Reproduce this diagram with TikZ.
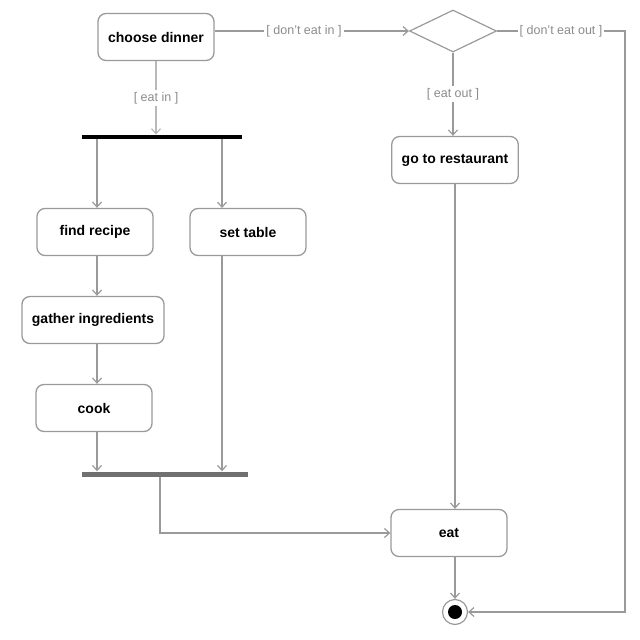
\documentclass[tikz,border=0pt]{standalone}
\usepackage{fontspec}
\setmainfont{Liberation Sans}
\usetikzlibrary{arrows.meta}
\usetikzlibrary{shapes.geometric}
\usetikzlibrary{positioning}
\definecolor{linegray}{HTML}{9A9A9A}
\definecolor{guardgray}{HTML}{8C8C8C}
\definecolor{joingray}{HTML}{707070}

\begin{document}
\begin{tikzpicture}[x=1pt,y=-1pt,->,>={Straight Barb[length=5pt,width=9pt]},
		activity/.style={draw=linegray,line width=1.3pt,rounded corners=8pt,minimum width=116pt,minimum height=47pt,inner xsep=10pt,font=\fontsize{14}{16}\selectfont\bfseries},
		guard/.style={fill=white,text=guardgray,inner sep=2pt,font=\fontsize{12.5}{14}\selectfont},
		flow/.style={draw=linegray,line width=1.2pt},
		bar/.style={inner sep=0pt,minimum height=4.5pt}]
		\useasboundingbox (0,0) rectangle (640,640);
		% nodes
		\node[activity] (dinner) at (156,37) {choose dinner};
		\node[draw=linegray,line width=1.2pt,diamond,minimum width=87pt,minimum height=42pt,inner sep=0pt] (dec) at (453,31) {};
		\node[activity] (restaurant) at (455,160) {go to restaurant};
		\node[bar,fill=black,minimum width=160pt] (fork) at (162,137) {};
		\node[activity] (recipe) at (95,232) {find recipe};
		\node[activity] (table) at (248,232) {set table};
		\node[activity] (gather) at (93,320) {gather ingredients};
		\node[activity] (cook) at (94,408) {cook};
		\node[bar,fill=joingray,minimum width=166pt,minimum height=5pt] (join) at (165,474) {};
		\node[activity] (eat) at (449,533) {eat};
		\node[circle,draw=linegray,line width=1.2pt,minimum width=25pt,minimum height=25pt,inner sep=0pt,
			path picture={\fill[black] (path picture bounding box.center) circle (7pt);}] (final) at (455,612) {};
		\coordinate (tablein) at (222,208);
		\coordinate (rightedge) at (625,0);
		% connectors
		\draw[flow] (dinner.east |- dec) -- node[guard,pos=0.46] {[ don't eat in ]} (dec.west);
		\draw[flow] (dec.south) -- node[guard] {[ eat out ]} (restaurant.north -| dec);
		\draw[flow] (dec.east) -- node[guard] {[ don't eat out ]} (dec.east -| rightedge) |- (final.east);
		\draw[flow,draw=linegray!70] (dinner.south) -- node[guard] {[ eat in ]} (dinner.south |- fork.north);
		\draw[flow] (fork.south -| 97,0) -- (recipe.north -| 97,0);
		\draw[flow] (fork.south -| tablein) -- (tablein);
		\draw[flow] (recipe.south -| 97,0) -- (gather.north -| 97,0);
		\draw[flow] (gather.south -| 97,0) -- (cook.north -| 97,0);
		\draw[flow] (cook.south -| 97,0) -- (join.north -| 97,0);
		\draw[flow] (table.south -| tablein) -- (join.north -| tablein);
		\draw[flow] (join.south -| 160,0) |- (eat.west);
		\draw[flow] (restaurant.south) -- (restaurant.south |- eat.north);
		\draw[flow] (eat.south -| final) -- (final.north);
\end{tikzpicture}
\end{document}
